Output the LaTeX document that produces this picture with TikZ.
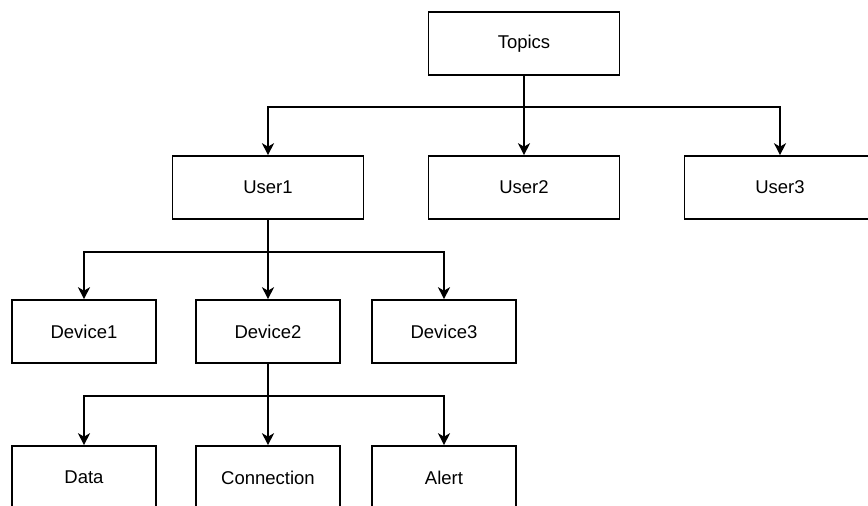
\documentclass[tikz,border=0pt]{standalone}
\usepackage{fontspec}
\setmainfont{Liberation Sans}
\usetikzlibrary{arrows.meta}
\begin{document}
\begin{tikzpicture}[x=1pt,y=1pt,
  box/.style={draw=black, line width=1.6pt, fill=white, inner sep=0pt,
    minimum height=63pt, font=\fontsize{18.5}{22}\selectfont},
  wide/.style={box, minimum width=191pt},
  narrow/.style={box, minimum width=144pt},
  link/.style={draw=black, line width=1.6pt,
    -{Stealth[length=12pt, width=12pt, inset=3.5pt]}}]
\useasboundingbox (0,0) rectangle (868,-506);
\clip (0,0) rectangle (868,-506);

% top level
\node[wide] (topics) at (524,-43.5) {Topics};

% users
\node[wide] (user1) at (268,-187.5) {User1};
\node[wide] (user2) at (524,-187.5) {User2};
\node[wide] (user3) at (780,-187.5) {User3};

% devices of User1
\node[narrow] (dev1) at (84,-331.5) {Device1};
\node[narrow] (dev2) at (268,-331.5) {Device2};
\node[narrow] (dev3) at (444,-331.5) {Device3};

% topics of Device2
\node[narrow] (data) at (84,-477.5) {Data};
\node[narrow] (conn) at (268,-477.5) {Connection};
\node[narrow] (alert) at (444,-477.5) {Alert};

% branch points
\coordinate (b1) at (topics.south |- 0,-107);
\coordinate (b2) at (user1.south |- 0,-252);
\coordinate (b3) at (dev2.south |- 0,-396);

\draw[link] (topics.south) -- (b1) -| (user1.north);
\draw[link] (topics.south) -- (user2.north);
\draw[link] (b1) -| (user3.north);

\draw[link] (user1.south) -- (b2) -| (dev1.north);
\draw[link] (user1.south) -- (dev2.north);
\draw[link] (b2) -| (dev3.north);

\draw[link] (dev2.south) -- (b3) -| (data.north);
\draw[link] (dev2.south) -- (conn.north);
\draw[link] (b3) -| (alert.north);
\end{tikzpicture}
\end{document}
